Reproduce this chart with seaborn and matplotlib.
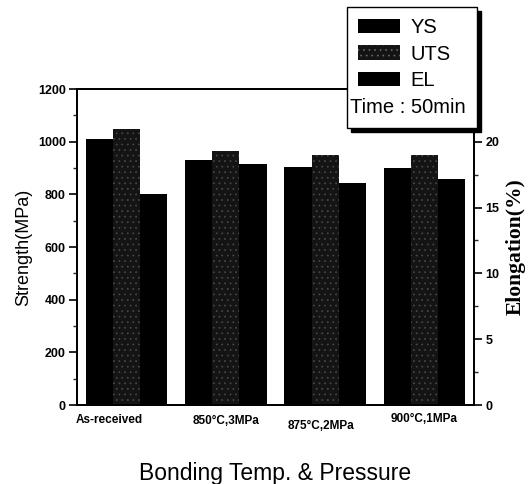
import matplotlib
matplotlib.use("Agg")
import matplotlib.pyplot as plt
import matplotlib.transforms as mtransforms
import seaborn as sns
import pandas as pd
from matplotlib.patches import Patch, Rectangle
from matplotlib.ticker import MultipleLocator

categories = ["As-received", "850°C,3MPa", "875°C,2MPa", "900°C,1MPa"]
ys = [1010, 930, 905, 900]
uts = [1050, 965, 950, 950]
el = [16.0, 18.3, 16.9, 17.2]
series = ["YS", "UTS", "EL"]

sns.set_theme(style="white")
plt.rcParams['font.family'] = ['Liberation Sans', 'DejaVu Sans']
plt.rcParams['hatch.linewidth'] = 0.5

zeros = [0] * 4
# strength axis: YS and UTS (EL kept as zero-height placeholder for dodge)
df_left = pd.DataFrame({
    "cat": categories * 3,
    "series": ["YS"] * 4 + ["UTS"] * 4 + ["EL"] * 4,
    "val": ys + uts + zeros,
})
# elongation axis: EL (YS, UTS zero-height placeholders)
df_right = pd.DataFrame({
    "cat": categories * 3,
    "series": ["YS"] * 4 + ["UTS"] * 4 + ["EL"] * 4,
    "val": zeros + zeros + el,
})

fig = plt.figure(figsize=(5.29, 4.84), dpi=100)
ax = fig.add_axes([0.1456, 0.1632, 0.7505, 0.6528])
ax2 = ax.twinx()

pal = {"YS": "#000000", "UTS": "#141414", "EL": "#000000"}
sns.barplot(data=df_left, x="cat", y="val", hue="series", hue_order=series,
            order=categories, palette=pal, width=0.82, ax=ax, legend=False,
            linewidth=0, saturation=1, errorbar=None)
sns.barplot(data=df_right, x="cat", y="val", hue="series", hue_order=series,
            order=categories, palette=pal, width=0.82, ax=ax2, legend=False,
            linewidth=0, saturation=1, errorbar=None)

# stipple UTS bars
for p in ax.patches:
    fc = p.get_facecolor()
    if abs(fc[0] - 0x14 / 255) < 0.01:
        p.set_hatch("...")
        p.set_edgecolor("#4a4a4a")
        p.set_linewidth(0)

ax.set_xlim(-0.5, 3.5)
ax.set_ylim(0, 1200)
ax2.set_ylim(0, 24)
ax.yaxis.set_major_locator(MultipleLocator(200))
ax.yaxis.set_minor_locator(MultipleLocator(100))
ax2.set_yticks([0, 5, 10, 15, 20])
ax2.yaxis.set_minor_locator(MultipleLocator(2.5))

for a in (ax, ax2):
    for s in a.spines.values():
        s.set_color("black")
        s.set_linewidth(1.3)

ax.tick_params(axis="y", which="major", direction="out", length=6, width=1.2,
               labelsize=9, pad=2, left=True, colors="black")
ax.tick_params(axis="y", which="minor", direction="out", length=3, width=1,
               left=True)
ax2.tick_params(axis="y", which="major", direction="out", length=6, width=1.2,
                labelsize=9, pad=2, right=True, colors="black")
ax2.tick_params(axis="y", which="minor", direction="out", length=3, width=1,
                right=True)
ax.tick_params(axis="x", bottom=False, labelsize=8.5, pad=1, colors="black")
for lab in ax.get_yticklabels() + ax2.get_yticklabels():
    lab.set_fontweight("bold")
xoffs = [(-17, 1), (0, 0), (-4, -5), (0, 2)]
for lab, (dx, dy) in zip(ax.get_xticklabels(), xoffs):
    lab.set_fontweight("bold")
    lab.set_transform(lab.get_transform() +
                      mtransforms.ScaledTranslation(dx / 100, dy / 100, fig.dpi_scale_trans))

ax.set_xlabel("Bonding Temp. & Pressure", fontsize=16.5, labelpad=22, color="black")
ax.set_ylabel("Strength(MPa)", fontsize=13, labelpad=4, color="black")
ax2.set_ylabel("Elongation(%)", fontsize=15.5, fontweight="bold",
               family=["Liberation Serif", "DejaVu Serif"], labelpad=5,
               color="black")
ax.grid(False)
ax2.grid(False)

handles = [Patch(facecolor="#000000", edgecolor="none"),
           Patch(facecolor="#141414", edgecolor="#6a6a6a", hatch="...", linewidth=0),
           Patch(facecolor="#000000", edgecolor="none"),
           Rectangle((0, 0), 0, 0, alpha=0)]
labels = ["YS", "UTS", "EL", "Time : 50min"]
leg = fig.legend(handles, labels, loc="upper left",
                 bbox_to_anchor=(0.656, 0.986), fontsize=14.5,
                 frameon=True, fancybox=False,
                 shadow={"color": "black", "alpha": 1, "ox": 3, "oy": -3},
                 edgecolor="black", handlelength=2.1, handleheight=0.7,
                 handletextpad=0.5, labelspacing=0.38, borderpad=0.55,
                 borderaxespad=0)
leg.get_frame().set_linewidth(1.0)
for t in leg.get_texts():
    t.set_color("black")
# last entry: text without handle, starting left of the handles
row = leg._legend_handle_box.get_children()[0].get_children()[3]
row.get_children()[0].set_width(0)
row.sep = -5.5

fig.savefig("out.png", dpi=100)
